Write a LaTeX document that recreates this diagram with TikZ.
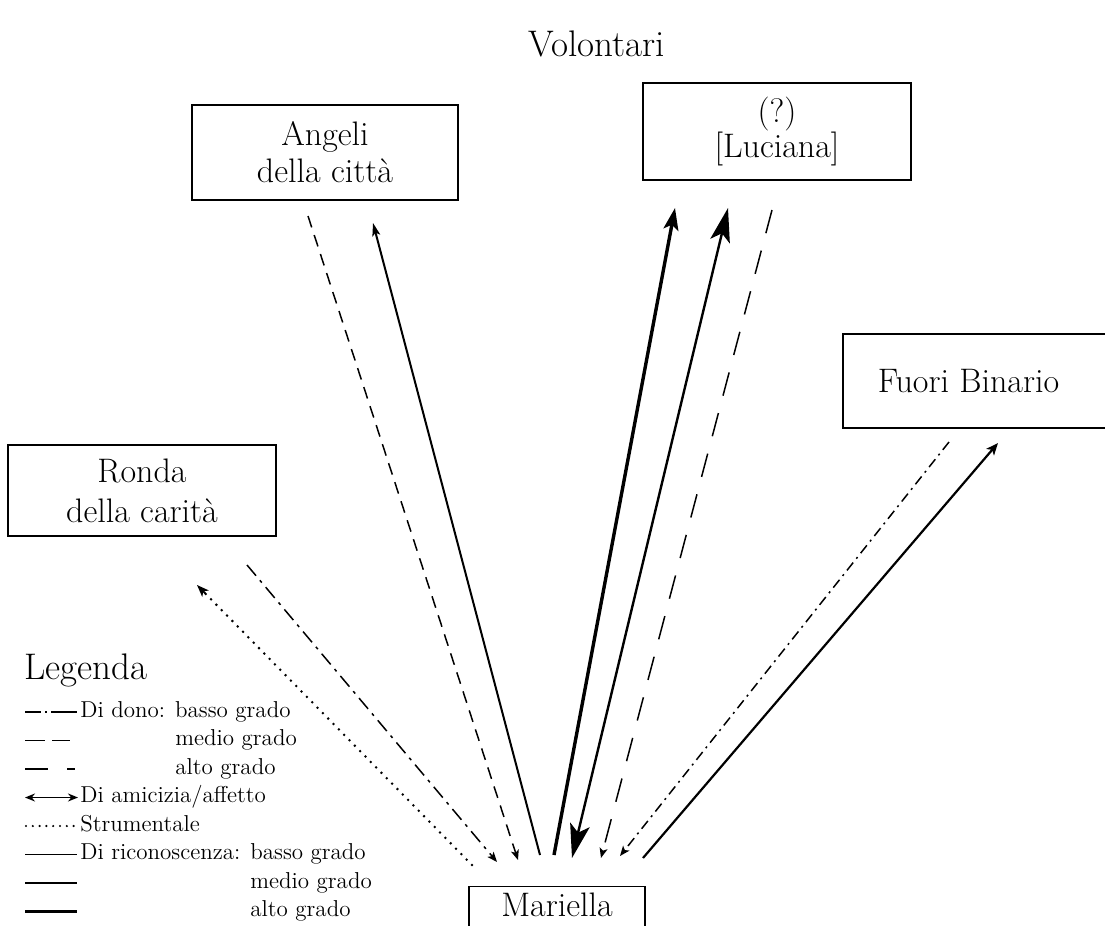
\documentclass[tikz,border=0pt]{standalone}
\usetikzlibrary{arrows.meta,calc}
\begin{document}
\begin{tikzpicture}[x=0.5pt,y=-0.5pt,
  box/.style={draw, line width=0.7pt, inner sep=0pt, align=center, font=\fontsize{17}{18.5}\selectfont},
  lg/.style={font=\fontsize{11.5}{13}\selectfont, anchor=base west, inner sep=0pt},
  dono/.style={line width=0.75pt},
  tipS/.style={-{Stealth[length=5pt,width=4pt,inset=1.2pt]}},
  tipM/.style={-{Stealth[length=11pt,width=7.5pt,inset=2.5pt]}},
  tipL/.style={{Stealth[length=17pt,width=10pt,inset=4pt]}-{Stealth[length=17pt,width=10pt,inset=4pt]}},
  strum/.style={line width=1.4pt, line cap=round, dash pattern=on 0pt off 3.8pt},
  donobasso/.style={dono, dash pattern=on 5pt off 2.5pt on 1pt off 2.5pt},
  donomedio/.style={dono, dash pattern=on 6pt off 4pt},
  donomedioL/.style={dono, dash pattern=on 12pt off 9pt},
  donoalto/.style={dono, dash pattern=on 7pt off 3pt on 1.5pt off 3pt},
  ricbasso/.style={line width=0.6pt},
  ricmedio/.style={line width=1.1pt},
  ricalto/.style={line width=1.7pt}
]
\useasboundingbox (0,0) rectangle (1105,926);
\clip (0,0) rectangle (1105,926);

% title
\node[font=\fontsize{18.5}{21}\selectfont, anchor=base, inner sep=0pt] (vol) at (597,56) {Volontari};

% boxes
\node[box, minimum width=133pt, minimum height=47.5pt] (ang) at (325,152.5) {Angeli\\della città};
\node[box, minimum width=134pt, minimum height=48.5pt, font=\fontsize{17}{14}\selectfont] (luc) at (777,131.5) {(?)\\{}[Luciana]};
\node[box, minimum width=133.5pt, minimum height=47pt] (fuo) at (976.5,381) {\hspace*{-8pt}Fuori Binario};
\node[box, minimum width=134pt, minimum height=45.5pt, font=\fontsize{17}{20}\selectfont] (ron) at (142,490.5) {Ronda\\della carità};
\node[box, anchor=north, minimum width=88pt, text height=11.5pt, text depth=25pt, inner ysep=3.5pt] (mar) at (557,886) {Mariella};

% connector end points
\coordinate (mS) at (472,865);  \coordinate (rS) at (197,585);
\coordinate (rA) at (247,565);  \coordinate (mA) at (497,862);
\coordinate (aD) at (308,216);  \coordinate (mD) at (518,860);
\coordinate (mR) at (540,855);  \coordinate (aR) at (373,223);
\coordinate (mT) at (554,855);  \coordinate (lT) at (675,208);
\coordinate (mF) at (572,858);  \coordinate (lF) at (728,208);
\coordinate (lD) at (772,210);  \coordinate (mL) at (601,858);
\coordinate (fD) at (949,442);  \coordinate (mB) at (620,856);
\coordinate (mK) at (643,858);  \coordinate (fK) at (998,443);
\coordinate (rS2) at ($(rS)!0.03!(mS)$);

% connectors
\draw[strum] (mS) -- (rS2);
\draw[line width=0.9pt, -{Stealth[length=6pt,width=4.5pt,inset=1.5pt]}] (rS2) -- (rS);
\draw[donoalto, tipS] (rA) -- (mA);
\draw[donomedio, tipS] (aD) -- (mD);
\draw[line width=1pt, -{Stealth[length=6.5pt,width=4pt,inset=1.5pt]}] (mR) -- (aR);
\draw[ricalto, tipM] (mT) -- (lT);
\draw[line width=1.2pt, tipL] (mF) -- (lF);
\draw[donomedioL, tipS] (lD) -- (mL);
\draw[donobasso, tipS] (fD) -- (mB);
\draw[line width=1.1pt, -{Stealth[length=6pt,width=5pt,inset=1.5pt]}] (mK) -- (fK);

% legend
\node[font=\fontsize{18.5}{21}\selectfont, anchor=base west, inner sep=0pt] (leg) at (24,679) {Legenda};
\draw[dono, dash pattern=on 8pt off 2pt on 1.2pt off 2pt on 20pt] (25,712) -- (77,712);
\node[lg] at (80,717) {Di dono: basso grado};
\draw[dono] (25,740.5) -- (45,740.5) (52,740.5) -- (70,740.5);
\node[lg] at (175,745.5) {medio grado};
\draw[dono] (25,769) -- (48,769) (67,769) -- (75,769);
\node[lg] at (175,774) {alto grado};
\draw[line width=0.9pt, {Stealth[length=5pt,width=4pt]}-{Stealth[length=5pt,width=4pt]}] (25,797.5) -- (78,797.5);
\node[lg] at (80,802.5) {Di amicizia/affetto};
\draw[line width=1.2pt, line cap=round, dash pattern=on 0pt off 3.4pt] (26,826) -- (76,826);
\node[lg] at (80,831) {Strumentale};
\draw[ricbasso] (25,854.5) -- (77,854.5);
\node[lg] at (80,859.5) {Di riconoscenza: basso grado};
\draw[ricmedio] (25,883) -- (77,883);
\node[lg] at (250,888) {medio grado};
\draw[ricalto] (25,911.5) -- (77,911.5);
\node[lg] at (250,916.5) {alto grado};
\end{tikzpicture}
\end{document}
